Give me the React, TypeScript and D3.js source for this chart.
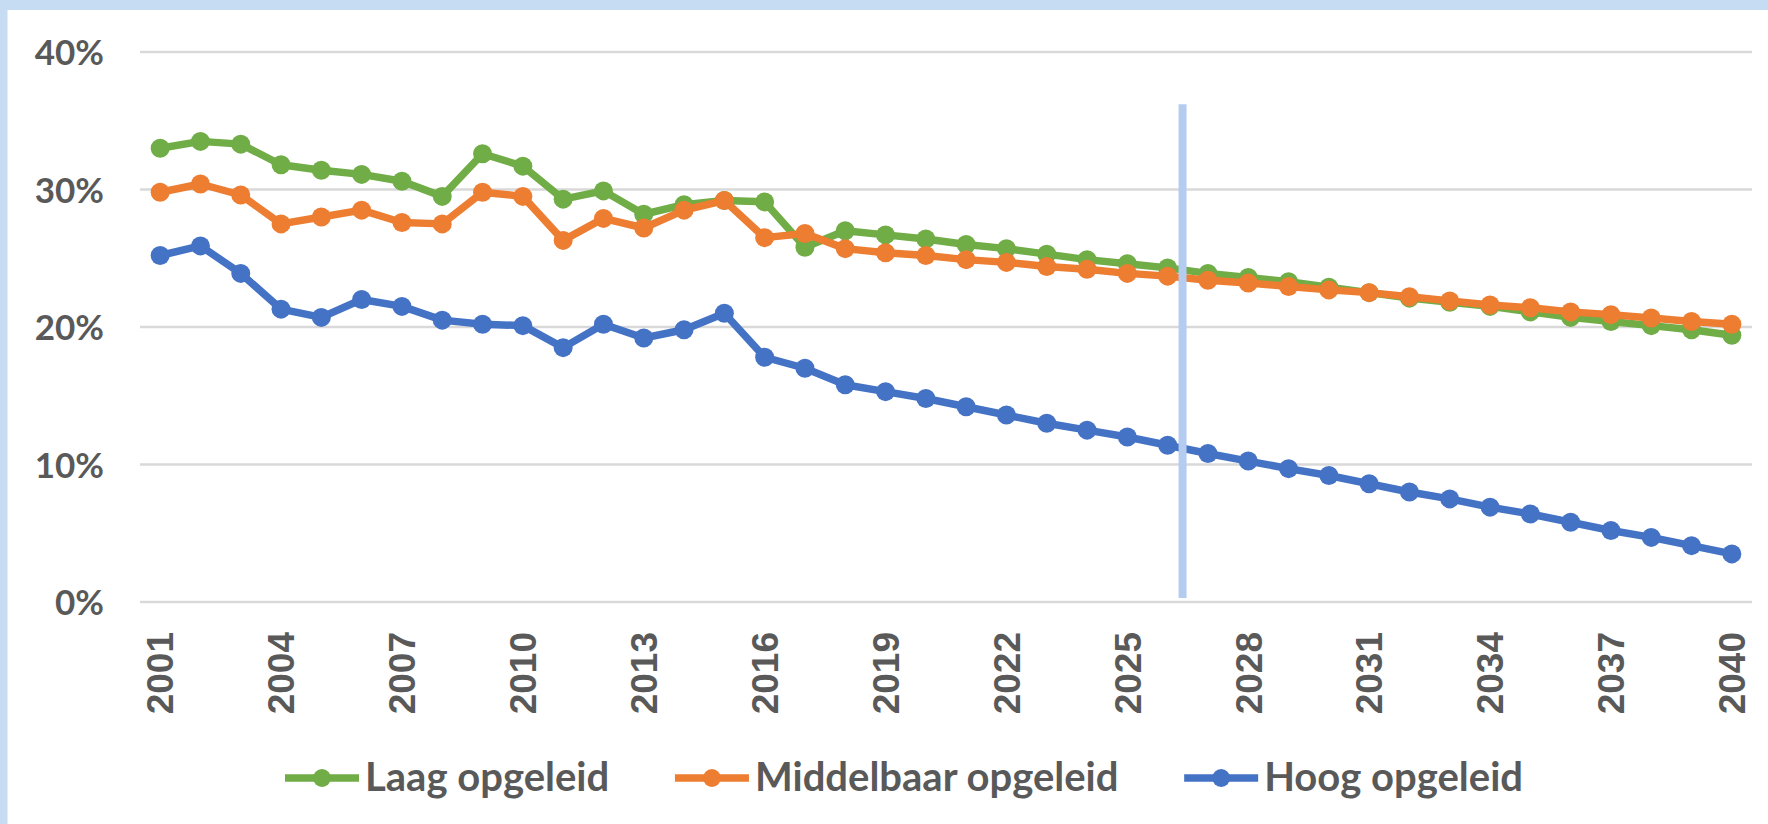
import React, { useEffect, useRef } from "react";
import * as d3 from "d3";

const years: number[] = [
  2001, 2002, 2003, 2004, 2005, 2006, 2007, 2008, 2009, 2010,
  2011, 2012, 2013, 2014, 2015, 2016, 2017, 2018, 2019, 2020,
  2021, 2022, 2023, 2024, 2025, 2026, 2027, 2028, 2029, 2030,
  2031, 2032, 2033, 2034, 2035, 2036, 2037, 2038, 2039, 2040,
];

const laag: number[] = [
  33.0, 33.5, 33.3, 31.8, 31.4, 31.1, 30.6, 29.5, 32.6, 31.7,
  29.3, 29.9, 28.2, 28.9, 29.2, 29.1, 25.8, 27.0, 26.7, 26.4,
  26.0, 25.7, 25.3, 24.9, 24.6, 24.3, 23.9, 23.6, 23.3, 22.9,
  22.5, 22.1, 21.8, 21.5, 21.1, 20.7, 20.4, 20.1, 19.8, 19.4,
];

const middelbaar: number[] = [
  29.8, 30.4, 29.6, 27.5, 28.0, 28.5, 27.6, 27.5, 29.8, 29.5,
  26.3, 27.9, 27.2, 28.5, 29.2, 26.5, 26.8, 25.7, 25.4, 25.2,
  24.9, 24.7, 24.4, 24.2, 23.9, 23.7, 23.4, 23.2, 22.95, 22.7,
  22.5, 22.2, 21.9, 21.6, 21.4, 21.1, 20.9, 20.65, 20.4, 20.2,
];

const hoog: number[] = [
  25.2, 25.9, 23.9, 21.3, 20.7, 22.0, 21.5, 20.5, 20.2, 20.1,
  18.5, 20.2, 19.2, 19.8, 21.0, 17.8, 17.0, 15.8, 15.3, 14.8,
  14.2, 13.6, 13.0, 12.5, 12.0, 11.4, 10.8, 10.25, 9.7, 9.2,
  8.6, 8.0, 7.5, 6.9, 6.4, 5.8, 5.2, 4.7, 4.1, 3.5,
];

const seriesNames: string[] = ["Laag opgeleid", "Middelbaar opgeleid", "Hoog opgeleid"];
const seriesColors: string[] = ["#70AD47", "#ED7D31", "#4472C4"];
const xTickLabels: number[] = [2001, 2004, 2007, 2010, 2013, 2016, 2019, 2022, 2025, 2028, 2031, 2034, 2037, 2040];
const yTicks: number[] = [0, 10, 20, 30, 40];
const markerYear = 2026.37;

const W = 1768;
const H = 824;

export default function App() {
  const ref = useRef<SVGSVGElement | null>(null);

  useEffect(() => {
    const svg = d3.select(ref.current);
    svg.selectAll("*").remove();

    svg.append("rect").attr("x", 0).attr("y", 0).attr("width", W).attr("height", H).attr("fill", "#ffffff");
    svg.append("rect").attr("x", 0).attr("y", 0).attr("width", W).attr("height", 10).attr("fill", "#C5DCF2");
    svg.append("rect").attr("x", 0).attr("y", 0).attr("width", 7.5).attr("height", H).attr("fill", "#C5DCF2");

    const x = d3.scaleBand<number>().domain(years).range([140, 1752]);
    const xc = (yr: number) => (x(yr) as number) + x.bandwidth() / 2;
    const y = d3.scaleLinear().domain([0, 40]).range([602, 52]);

    // gridlines
    svg.append("g")
      .selectAll("line")
      .data(yTicks)
      .join("line")
      .attr("x1", 140)
      .attr("x2", 1752)
      .attr("y1", (d) => y(d))
      .attr("y2", (d) => y(d))
      .attr("stroke", "#D9D9D9")
      .attr("stroke-width", 2.5);

    // y labels
    svg.append("g")
      .selectAll("text")
      .data(yTicks)
      .join("text")
      .attr("x", 104)
      .attr("y", (d) => y(d) + 13)
      .attr("text-anchor", "end")
      .attr("font-family", "Lato, 'Open Sans', sans-serif")
      .attr("font-weight", 700)
      .attr("font-size", 35)
      .attr("fill", "#595959")
      .text((d) => `${d}%`);

    // x labels
    svg.append("g")
      .selectAll("text")
      .data(xTickLabels)
      .join("text")
      .attr("transform", (d) => `translate(${xc(d)},632) rotate(-90)`)
      .attr("text-anchor", "end")
      .attr("dy", "0.36em")
      .attr("font-family", "'Liberation Sans', Arial, sans-serif")
      .attr("font-weight", 700)
      .attr("font-size", 37)
      .attr("fill", "#595959")
      .text((d) => String(d));

    const allSeries = [laag, middelbaar, hoog];
    const line = d3.line<number>()
      .x((_, i) => xc(years[i]))
      .y((d) => y(d));

    allSeries.forEach((vals, si) => {
      const g = svg.append("g");
      g.append("path")
        .attr("d", line(vals) as string)
        .attr("fill", "none")
        .attr("stroke", seriesColors[si])
        .attr("stroke-width", 7.5)
        .attr("stroke-linejoin", "round");
      g.selectAll("circle")
        .data(vals)
        .join("circle")
        .attr("cx", (_, i) => xc(years[i]))
        .attr("cy", (d) => y(d))
        .attr("r", 9.5)
        .attr("fill", seriesColors[si]);
    });

    // vertical marker line
    const step = xc(2002) - xc(2001);
    const mx = xc(2026) + (markerYear - 2026) * step;
    svg.append("line")
      .attr("x1", mx)
      .attr("x2", mx)
      .attr("y1", y(36.2))
      .attr("y2", y(0.3))
      .attr("stroke", "#B4CCF0")
      .attr("stroke-width", 8);

    // legend
    const legend = svg.append("g");
    const lineLen = 74;
    const gapText = 6;
    const items: { w: number; g: any }[] = [];
    seriesNames.forEach((name, i) => {
      const g = legend.append("g");
      g.append("line")
        .attr("x1", 0).attr("x2", lineLen)
        .attr("y1", 0).attr("y2", 0)
        .attr("stroke", seriesColors[i])
        .attr("stroke-width", 7.5);
      g.append("circle").attr("cx", lineLen / 2).attr("cy", 0).attr("r", 9).attr("fill", seriesColors[i]);
      const t = g.append("text")
        .attr("x", lineLen + gapText)
        .attr("y", 13)
        .attr("font-family", "Lato, 'Open Sans', sans-serif")
        .attr("font-weight", 700)
        .attr("font-size", 40)
        .attr("fill", "#595959")
        .text(name);
      const tw = (t.node() as SVGTextElement).getComputedTextLength();
      items.push({ w: lineLen + gapText + tw, g });
    });
    const start = 285;
    const end = 1523;
    const totalW = items.reduce((s, it) => s + it.w, 0);
    const gap = (end - start - totalW) / (items.length - 1);
    let cx = start;
    items.forEach((it) => {
      it.g.attr("transform", `translate(${cx},778)`);
      cx += it.w + gap;
    });
  }, []);

  return (
    <svg
      ref={ref}
      width={W}
      height={H}
      style={{ position: "absolute", left: 0, top: 0, display: "block" }}
    />
  );
}
